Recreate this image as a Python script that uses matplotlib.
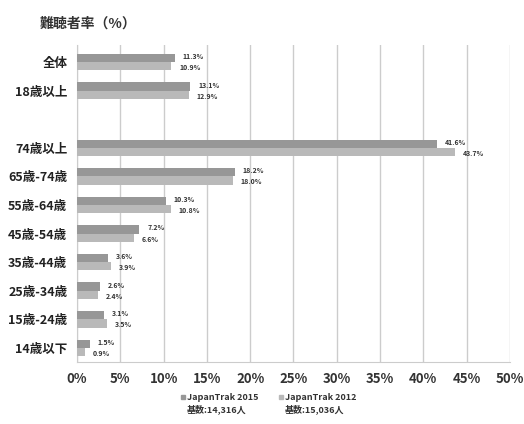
import matplotlib
matplotlib.use("Agg")
import matplotlib.pyplot as plt
from matplotlib.patches import Rectangle
import numpy as np

plt.rcParams['font.family'] = ['Noto Sans CJK JP', 'DejaVu Sans']

# data
categories = ["全体", "18歳以上", "", "74歳以上", "65歳-74歳", "55歳-64歳",
              "45歳-54歳", "35歳-44歳", "25歳-34歳", "15歳-24歳", "14歳以下"]
rate_2015 = [11.3, 13.1, None, 41.6, 18.2, 10.3, 7.2, 3.6, 2.6, 3.1, 1.5]
rate_2012 = [10.9, 12.9, None, 43.7, 18.0, 10.8, 6.6, 3.9, 2.4, 3.5, 0.9]
series_names = ["JapanTrak 2015", "JapanTrak 2012"]
base_counts = ["基数:14,316人", "基数:15,036人"]
xticks = np.arange(0, 51, 5)

fig = plt.figure(figsize=(5.24, 4.24), dpi=100)
ax = fig.add_axes([0.147, 0.146, 0.826, 0.748])

ypos = np.arange(len(categories))
h = 0.29
colors = ["#979797", "#b9b9b9"]

for i in range(len(categories)):
    if rate_2015[i] is None:
        continue
    ax.barh(ypos[i] - h / 2, rate_2015[i], height=h, color=colors[0], zorder=3)
    ax.barh(ypos[i] + h / 2, rate_2012[i], height=h, color=colors[1], zorder=3)
    ax.text(rate_2015[i] + 0.9, ypos[i] - h / 2 - 0.05, f"{rate_2015[i]:.1f}%",
            fontsize=5, fontweight="bold", va="center", ha="left", color="#333333")
    ax.text(rate_2012[i] + 0.9, ypos[i] + h / 2 + 0.05, f"{rate_2012[i]:.1f}%",
            fontsize=5, fontweight="bold", va="center", ha="left", color="#333333")

ax.set_xlim(0, 50)
ax.set_ylim(10.5, -0.6)
ax.set_xticks(xticks)
ax.set_xticklabels([f"{v}%" for v in xticks], fontsize=9.5, fontweight="bold", color="#333333")
ax.set_yticks(ypos)
ax.set_yticklabels(categories, fontsize=9, fontweight="bold", color="#222222")
ax.tick_params(length=0, pad=7)
ax.grid(axis="x", color="#cccccc", linewidth=1, zorder=0)
for s in ["top", "right"]:
    ax.spines[s].set_visible(False)
ax.spines["left"].set_color("#cccccc")
ax.spines["bottom"].set_color("#cccccc")

fig.text(0.075, 0.945, "難聴者率（%）", fontsize=10, fontweight="bold", color="#333333",
         va="center", ha="left")

# legend drawn by hand: marker + name on first line, count below
leg_x = [0.345, 0.532]
for j in range(2):
    fig.patches.append(Rectangle((leg_x[j], 0.058), 0.009, 0.011, color=colors[j],
                                 transform=fig.transFigure, figure=fig))
    fig.text(leg_x[j] + 0.012, 0.063, series_names[j], fontsize=6.5, fontweight="bold",
             color="#333333", va="center", ha="left")
    fig.text(leg_x[j] + 0.012, 0.035, base_counts[j], fontsize=6.5, fontweight="bold",
             color="#333333", va="center", ha="left")

fig.savefig("out.png", dpi=100, facecolor="white")
